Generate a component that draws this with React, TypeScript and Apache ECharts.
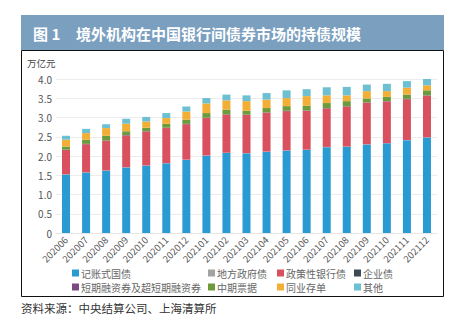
import React, { useEffect, useRef } from "react";
import * as echarts from "echarts";

const categories = ["202006","202007","202008","202009","202010","202011","202012","202101","202102","202103","202104","202105","202106","202107","202108","202109","202110","202111","202112"];
const treasury = [1.52,1.57,1.62,1.70,1.75,1.81,1.90,2.01,2.08,2.07,2.11,2.14,2.16,2.23,2.24,2.30,2.33,2.41,2.48];
const localGov = [0.005,0.005,0.005,0.005,0.005,0.005,0.005,0.005,0.005,0.005,0.005,0.005,0.005,0.005,0.005,0.005,0.005,0.005,0.005];
const policyBank = [0.63,0.73,0.77,0.83,0.88,0.91,0.92,0.97,0.99,0.99,1.01,1.02,1.01,1.00,1.04,1.08,1.08,1.06,1.08];
const corporate = [0.005,0.005,0.005,0.005,0.005,0.005,0.005,0.005,0.005,0.005,0.005,0.005,0.005,0.005,0.005,0.005,0.005,0.005,0.005];
const shortTerm = [0.005,0.005,0.005,0.005,0.005,0.005,0.005,0.005,0.005,0.005,0.005,0.005,0.005,0.005,0.005,0.005,0.005,0.005,0.005];
const mtn = [0.08,0.11,0.12,0.10,0.09,0.10,0.11,0.12,0.12,0.10,0.11,0.12,0.12,0.13,0.13,0.10,0.11,0.11,0.13];
const ncd = [0.18,0.17,0.20,0.19,0.16,0.15,0.21,0.25,0.24,0.25,0.22,0.21,0.25,0.20,0.15,0.19,0.15,0.18,0.13];
const others = [0.10,0.11,0.10,0.13,0.12,0.13,0.13,0.14,0.15,0.15,0.17,0.20,0.18,0.21,0.22,0.17,0.19,0.17,0.18];
const yTicks = [0, 0.5, 1, 1.5, 2, 2.5, 3, 3.5, 4];

const seriesNames = ["记账式国债","地方政府债","政策性银行债","企业债","短期融资券及超短期融资券","中期票据","同业存单","其他"];
const seriesData = [treasury, localGov, policyBank, corporate, shortTerm, mtn, ncd, others];
const seriesColors = ["#2a9ad2","#a3a3a3","#d9505f","#3b4a55","#7a4a80","#6c9a3c","#f3ae35","#6cc0d2"];
const legendPos = [[72,268],[208,268],[277,268],[354,268],[72,282],[208,282],[277,282],[354,282]];

const FONT = "'Noto Sans CJK SC', 'Noto Sans', sans-serif";

export default function App() {
  const ref = useRef<HTMLDivElement>(null);
  useEffect(() => {
    if (!ref.current) return;
    const chart = echarts.init(ref.current, null, { renderer: "svg" });
    chart.setOption({
      animation: false,
      backgroundColor: "#ffffff",
      textStyle: { fontFamily: FONT },
      graphic: [
        { type: "rect", shape: { x: 21, y: 15, width: 423, height: 35 }, style: { fill: "#7ba0bf" }, silent: true },
        { type: "rect", shape: { x: 21.5, y: 50.5, width: 422, height: 246 }, style: { fill: "none", stroke: "#111", lineWidth: 1 }, silent: true },
        { type: "text", x: 33, y: 33, style: { text: "图 1", fill: "#ffffff", font: `bold 15px ${FONT}`, verticalAlign: "middle" } },
        { type: "text", x: 76, y: 33, style: { text: "境外机构在中国银行间债券市场的持债规模", fill: "#ffffff", font: `bold 15px ${FONT}`, verticalAlign: "middle" } },
        { type: "text", x: 27, y: 63, style: { text: "万亿元", fill: "#444", font: `9.5px ${FONT}`, verticalAlign: "middle" } },
        { type: "text", x: 21, y: 308, style: { text: "资料来源：中央结算公司、上海清算所", fill: "#333", font: `11.5px ${FONT}`, verticalAlign: "middle" } },
      ],
      legend: seriesNames.map((n, i) => ({
        data: [n],
        left: legendPos[i][0],
        top: legendPos[i][1],
        itemWidth: 7,
        itemHeight: 7,
        itemGap: 2,
        icon: "rect",
        padding: 0,
        selectedMode: false,
        textStyle: { fontSize: 10, color: "#666", fontFamily: FONT, padding: [0, 0, 0, -3] },
      })),
      grid: { left: 56, right: 36, top: 79, bottom: 90, containLabel: false },
      xAxis: {
        type: "category",
        data: categories,
        axisLine: { show: true, lineStyle: { color: "#e6e6e6" } },
        axisTick: { show: false },
        axisLabel: { rotate: 45, fontSize: 9.5, color: "#555", margin: 5, interval: 0 },
      },
      yAxis: {
        type: "value",
        min: yTicks[0],
        max: yTicks[yTicks.length - 1],
        interval: 0.5,
        axisLine: { show: false },
        axisTick: { show: false },
        splitLine: { lineStyle: { color: "#ececec" } },
        axisLabel: {
          fontSize: 10,
          color: "#555",
          margin: 4,
          formatter: (v: number) => (v === 0 ? "0" : v.toFixed(1)),
        },
      },
      series: seriesNames.map((n, i) => ({
        name: n,
        type: "bar",
        stack: "total",
        barWidth: 8,
        data: seriesData[i],
        itemStyle: { color: seriesColors[i] },
      })),
    });
    return () => chart.dispose();
  }, []);
  return (
    <div style={{ position: "absolute", left: 0, top: 0, width: 473, height: 323, background: "#fff" }}>
      <div ref={ref} style={{ width: 473, height: 323 }} />
    </div>
  );
}
